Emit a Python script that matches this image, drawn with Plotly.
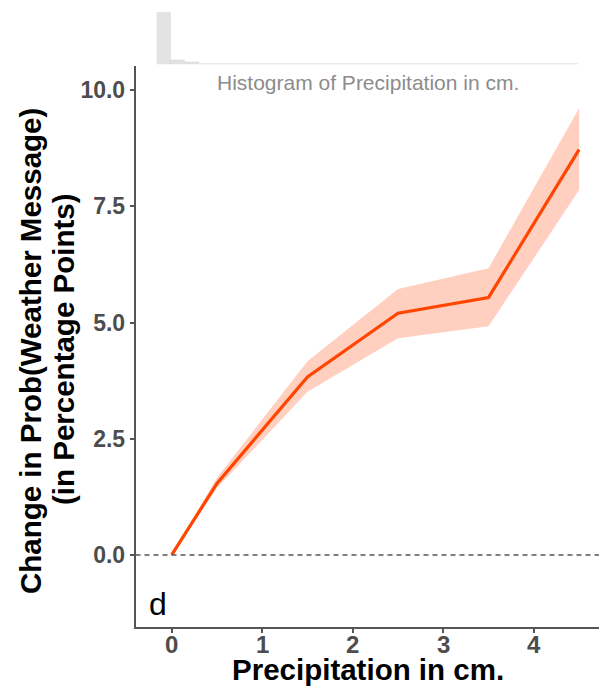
import plotly.graph_objects as go

# Marginal effect of precipitation on the probability of a weather message
precip_cm = [0, 0.5, 1.5, 2.5, 3.5, 4.5]
effect_pp = [0, 1.54, 3.83, 5.20, 5.54, 8.72]
ci_lower = [0, 1.44, 3.51, 4.66, 4.92, 7.85]
ci_upper = [0, 1.66, 4.17, 5.72, 6.17, 9.61]

x_ticks = [0, 1, 2, 3, 4]
x_tick_labels = ["0", "1", "2", "3", "4"]
y_ticks = [0.0, 2.5, 5.0, 7.5, 10.0]
y_tick_labels = ["0.0", "2.5", "5.0", "7.5", "10.0"]

# Histogram of precipitation (30 bins)
hist_bin_width = 0.15
hist_counts = [1300, 100, 40, 12, 5, 3, 2, 1, 1, 1,
               0, 0, 0, 0, 0, 0, 0, 0, 0, 0,
               0, 0, 0, 0, 0, 0, 0, 0, 0, 0]
hist_centers = [hist_bin_width * (i + 0.5) for i in range(len(hist_counts))]

W, H = 613, 686
FONT = "Liberation Sans"
AXIS_GREY = "#555555"
TICK_TEXT = "#4d4d4d"
LINE_COLOR = "#ff4500"


def fx(px):
    return px / W


def fy(py):
    return 1 - py / H


fig = go.Figure()

# confidence band
fig.add_trace(go.Scatter(
    x=precip_cm + precip_cm[::-1],
    y=ci_upper + ci_lower[::-1],
    fill="toself", fillcolor="rgba(255,69,0,0.25)",
    line=dict(width=0), mode="lines", hoverinfo="skip", showlegend=False,
    xaxis="x", yaxis="y",
))
# point estimate
fig.add_trace(go.Scatter(
    x=precip_cm, y=effect_pp, mode="lines",
    line=dict(color=LINE_COLOR, width=3.2), showlegend=False,
    xaxis="x", yaxis="y",
))
# marginal histogram
fig.add_trace(go.Bar(
    x=hist_centers, y=hist_counts, width=hist_bin_width,
    marker=dict(color="#e3e3e3", line=dict(color="#d6d6d6", width=0.6)),
    showlegend=False, xaxis="x2", yaxis="y2",
))

# x tick labels sit tight under the axis, in compact text boxes
x_label_annotations = [
    dict(text=lab, xref="x", yref="paper", x=v, y=fy(644),
         xanchor="center", yanchor="middle", showarrow=False, height=22,
         font=dict(family=FONT, size=24, color=TICK_TEXT, weight="bold"))
    for v, lab in zip(x_ticks, x_tick_labels)
]

fig.update_layout(
    width=W, height=H,
    margin=dict(l=0, r=0, t=0, b=0),
    paper_bgcolor="white", plot_bgcolor="white",
    bargap=0,
    xaxis=dict(
        domain=[fx(135.5), fx(599)], range=[-0.40, 4.72],
        tickvals=x_ticks, ticks="outside", ticklen=4, tickwidth=1.5,
        tickcolor=AXIS_GREY, showline=True, linecolor=AXIS_GREY, linewidth=1.5,
        showgrid=False, zeroline=False, showticklabels=False,
    ),
    yaxis=dict(
        domain=[fy(627), fy(66)], range=[-1.55, 10.52],
        tickvals=y_ticks, ticktext=y_tick_labels, ticks="outside", ticklen=4,
        tickwidth=1.5, tickcolor=AXIS_GREY, showline=True, linecolor=AXIS_GREY,
        linewidth=1.5, showgrid=False, zeroline=False,
        tickfont=dict(family=FONT, size=23, color=TICK_TEXT, weight="bold"),
    ),
    xaxis2=dict(
        domain=[fx(156.7), fx(578)], range=[0, hist_bin_width * len(hist_counts)],
        anchor="y2", visible=False,
    ),
    yaxis2=dict(
        domain=[fy(64.3), fy(12.3)], range=[0, max(hist_counts)],
        anchor="x2", visible=False,
    ),
    shapes=[
        dict(type="line", xref="x domain", yref="y", x0=0, x1=1, y0=0, y1=0,
             line=dict(color=AXIS_GREY, width=1.5, dash="5px,4px")),
        dict(type="line", xref="x2 domain", yref="y2", x0=0, x1=1, y0=0, y1=0,
             line=dict(color="#e4e4e4", width=1)),
    ],
    annotations=x_label_annotations + [
        dict(text="Histogram of Precipitation in cm.", xref="paper", yref="paper",
             x=fx(368), y=fy(83), xanchor="center", yanchor="middle",
             showarrow=False, font=dict(family=FONT, size=21, color="#8c8c8c")),
        dict(text="Precipitation in cm.", xref="paper", yref="paper",
             x=fx(367.5), y=fy(669), xanchor="center", yanchor="middle",
             showarrow=False,
             font=dict(family=FONT, size=29.5, color="black", weight="bold")),
        dict(text="Change in Prob(Weather Message)", xref="paper", yref="paper",
             x=fx(31), y=fy(351), xanchor="center", yanchor="middle", textangle=-90,
             showarrow=False,
             font=dict(family=FONT, size=29.5, color="black", weight="bold")),
        dict(text="(in Percentage Points)", xref="paper", yref="paper",
             x=fx(63), y=fy(350), xanchor="center", yanchor="middle", textangle=-90,
             showarrow=False,
             font=dict(family=FONT, size=29.5, color="black", weight="bold")),
        dict(text="d", xref="x", yref="y", x=-0.27, y=-1.05,
             xanchor="left", yanchor="middle", showarrow=False,
             font=dict(family=FONT, size=32, color="black")),
    ],
)

fig.write_html("out.html")
